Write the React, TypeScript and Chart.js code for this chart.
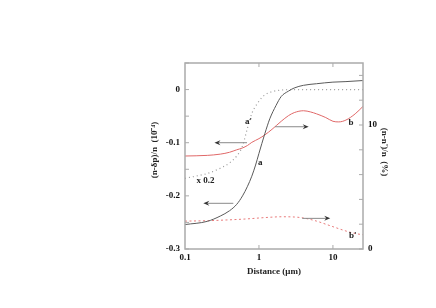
import React, { useEffect, useRef } from "react";
import { Chart, registerables } from "chart.js";
Chart.register(...registerables);

// Distance (µm) sample positions and values
const aX = [0.1, 0.2, 0.3, 0.4, 0.5, 0.6, 0.7, 0.8, 0.9, 1.0, 1.2, 1.4, 1.7, 2.0, 2.5, 3, 4, 6, 10, 15, 25.5];
const aY = [-0.254, -0.248, -0.238, -0.228, -0.216, -0.2, -0.182, -0.163, -0.142, -0.12, -0.083, -0.055, -0.03, -0.013, -0.003, 0.003, 0.008, 0.011, 0.014, 0.015, 0.017];

const aPrimeX = [0.1, 0.15, 0.2, 0.3, 0.4, 0.5, 0.6, 0.7, 0.8, 1.0, 1.2, 1.5, 2, 3, 5, 10, 25.5];
const aPrimeY = [-0.167, -0.162, -0.158, -0.148, -0.138, -0.125, -0.106, -0.072, -0.045, -0.022, -0.01, -0.004, -0.001, 0, 0, 0, 0];

const bX = [0.1, 0.2, 0.3, 0.4, 0.5, 0.6, 0.7, 0.8, 1.0, 1.2, 1.5, 2.0, 2.5, 3, 4, 5, 6, 8, 10, 12, 15, 20, 25.5];
const bY = [7.5, 7.55, 7.65, 7.8, 8.0, 8.15, 8.35, 8.6, 8.9, 9.2, 9.65, 10.3, 10.75, 11.0, 11.15, 11.05, 10.9, 10.6, 10.3, 10.25, 10.4, 10.9, 11.5];

const bPrimeX = [0.1, 0.2, 0.3, 0.5, 0.7, 1.0, 1.5, 2.0, 3.0, 4.0, 6.0, 8.0, 10, 15, 20, 25.5];
const bPrimeY = [2.25, 2.28, 2.32, 2.38, 2.43, 2.5, 2.57, 2.6, 2.58, 2.5, 2.25, 2.0, 1.8, 1.45, 1.25, 1.15];

const xTicks = [0.1, 1, 10];
const leftLabels = ["0", "-0.1", "-0.2", "-0.3"];
const rightLabels = ["0", "10"];

// annotation arrows: [x from, x to, y, axis]
const arrows: [number, number, number, string][] = [
  [0.69, 0.25, -0.1, "yL"],
  [0.45, 0.177, -0.214, "yL"],
  [1.65, 4.7, 9.86, "yR"],
  [3.85, 9.2, 2.47, "yR"],
];
// curve labels: [text, x, y, axis]
const curveLabels: [string, number, number, string][] = [
  ["a'", 0.72, -0.061, "yL"],
  ["a", 1.04, -0.138, "yL"],
  ["b", 17.5, 10.2, "yR"],
  ["b'", 18.5, 1.1, "yR"],
  ["x 0.2", 0.19, -0.172, "yL"],
];

const FONT = "bold 9px 'Liberation Serif'";

const toPts = (xs: number[], ys: number[]) => xs.map((x, i) => ({ x, y: ys[i] }));

export default function App() {
  const ref = useRef<HTMLCanvasElement | null>(null);
  useEffect(() => {
    if (!ref.current) return;
    const overlay = {
      id: "overlay",
      afterDatasetsDraw(chart: any) {
        const { ctx, chartArea: ca, scales } = chart;
        const x = scales.x, yL = scales.yL, yR = scales.yR;
        ctx.save();
        // frame
        ctx.strokeStyle = "#ababab";
        ctx.lineWidth = 1.5;
        ctx.strokeRect(ca.left, ca.top, ca.right - ca.left, ca.bottom - ca.top);
        // inward ticks
        ctx.lineWidth = 1;
        ctx.beginPath();
        yL.ticks.forEach((t: any) => {
          const p = yL.getPixelForValue(t.value);
          ctx.moveTo(ca.left, p);
          ctx.lineTo(ca.left + 4, p);
        });
        yR.ticks.forEach((t: any) => {
          const p = yR.getPixelForValue(t.value);
          ctx.moveTo(ca.right, p);
          ctx.lineTo(ca.right - 4, p);
        });
        xTicks.slice(1).forEach((v) => {
          const p = x.getPixelForValue(v);
          ctx.moveTo(p, ca.bottom);
          ctx.lineTo(p, ca.bottom - 4);
          ctx.moveTo(p, ca.top);
          ctx.lineTo(p, ca.top + 4);
        });
        ctx.stroke();
        // arrows
        arrows.forEach(([x1, x2, yv, ax]) => {
          const sc = scales[ax];
          const px1 = x.getPixelForValue(x1), px2 = x.getPixelForValue(x2), py = sc.getPixelForValue(yv);
          const dir = Math.sign(px2 - px1);
          ctx.strokeStyle = "#8a8a8a";
          ctx.lineWidth = 1;
          ctx.beginPath();
          ctx.moveTo(px1, py);
          ctx.lineTo(px2 - dir * 4, py);
          ctx.stroke();
          ctx.fillStyle = "#333";
          ctx.beginPath();
          ctx.moveTo(px2, py);
          ctx.lineTo(px2 - dir * 6, py - 2.5);
          ctx.lineTo(px2 - dir * 4, py);
          ctx.lineTo(px2 - dir * 6, py + 2.5);
          ctx.closePath();
          ctx.fill();
        });
        // curve labels
        ctx.fillStyle = "#222";
        ctx.font = FONT;
        ctx.textAlign = "center";
        ctx.textBaseline = "middle";
        curveLabels.forEach(([txt, xv, yv, ax]) => {
          ctx.fillText(txt, x.getPixelForValue(xv), scales[ax].getPixelForValue(yv));
        });
        // axis titles
        ctx.fillText("Distance (\u03bcm)", (ca.left + ca.right) / 2, 272);
        ctx.save();
        ctx.translate(155, 150);
        ctx.rotate(-Math.PI / 2);
        ctx.fillText("(n-\u03b4p)/n  (10\u207b\u2074)", 0, 0);
        ctx.restore();
        ctx.save();
        ctx.translate(384, 152);
        ctx.rotate(Math.PI / 2);
        ctx.fillText("(n-n')/n  (%)", 0, 0);
        ctx.restore();
        ctx.restore();
      },
    };
    const tickFont = { family: "'Liberation Serif'", size: 9, weight: "bold" as const };
    const chart = new Chart(ref.current, {
      type: "line",
      data: {
        datasets: [
          {
            data: toPts(aX, aY), yAxisID: "yL", borderColor: "#5a5a5a", borderWidth: 1,
            pointRadius: 0, cubicInterpolationMode: "monotone",
          },
          {
            data: toPts(aPrimeX, aPrimeY), yAxisID: "yL", borderColor: "#9a9a9a", borderWidth: 1.2,
            borderDash: [1, 3], pointRadius: 0, cubicInterpolationMode: "monotone",
          },
          {
            data: toPts(bX, bY), yAxisID: "yR", borderColor: "#e06868", borderWidth: 1,
            pointRadius: 0, cubicInterpolationMode: "monotone",
          },
          {
            data: toPts(bPrimeX, bPrimeY), yAxisID: "yR", borderColor: "#e87a7a", borderWidth: 1,
            borderDash: [2, 2.5], pointRadius: 0, cubicInterpolationMode: "monotone",
          },
        ],
      },
      options: {
        responsive: false,
        animation: false,
        layout: { padding: { top: 63, left: 0, right: 0, bottom: 0 } },
        plugins: { legend: { display: false }, tooltip: { enabled: false } },
        scales: {
          x: {
            type: "logarithmic",
            min: 0.1,
            max: 25.5,
            afterBuildTicks: (s: any) => { s.ticks = xTicks.map((v) => ({ value: v })); },
            afterFit: (s: any) => { s.height = 59; },
            grid: { display: false, drawTicks: false },
            border: { display: false },
            ticks: {
              autoSkip: false, maxRotation: 0, padding: 3, color: "#111", font: tickFont,
              callback: (v: any) => (v === 0.1 ? "0.1" : String(v)),
            },
          },
          yL: {
            type: "linear",
            position: "left",
            min: -0.3,
            max: 0.05,
            afterFit: (s: any) => { s.width = 185; },
            grid: { display: false, drawTicks: false },
            border: { display: false },
            ticks: {
              stepSize: 0.05, padding: 5, color: "#111", font: tickFont,
              callback: (v: any) => {
                const r = Math.round(Number(v) * 100);
                if (r % 10 !== 0) return "";
                const lab = r === 0 ? "0" : (r / 100).toString();
                return leftLabels.includes(lab) ? lab : "";
              },
            },
          },
          yR: {
            type: "linear",
            position: "right",
            min: 0,
            max: 15,
            afterFit: (s: any) => { s.width = 73; },
            grid: { display: false, drawTicks: false },
            border: { display: false },
            ticks: {
              stepSize: 2, includeBounds: false, padding: 5, color: "#111", font: tickFont,
              callback: (v: any) => (rightLabels.includes(String(v)) ? String(v) : ""),
            },
          },
        },
      },
      plugins: [overlay],
    } as any);
    return () => chart.destroy();
  }, []);
  return (
    <div style={{ position: "fixed", left: 0, top: 0, width: 436, height: 308, background: "#fff" }}>
      <canvas ref={ref} width={436} height={308} style={{ display: "block" }} />
    </div>
  );
}
